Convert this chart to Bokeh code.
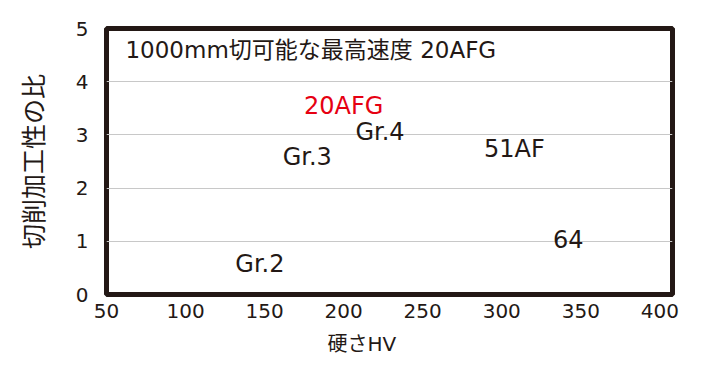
from bokeh.plotting import figure
from bokeh.models import Range1d, Label, Title, ColumnDataSource, FixedTicker
from bokeh.core.properties import value
from bokeh.embed import file_html
from bokeh.resources import INLINE

# Machinability ratio vs. hardness (HV) for each grade
grades = ["20AFG", "Gr.4", "Gr.3", "51AF", "Gr.2", "64"]
hardness_hv = [200, 223, 177, 308, 147, 342]
machinability_ratio = [3.54, 3.05, 2.58, 2.74, 0.58, 1.05]
highlight = "20AFG"

x_ticks = [50, 100, 150, 200, 250, 300, 350, 400]
y_ticks = [0, 1, 2, 3, 4, 5]

heading = "1000mm切可能な最高速度 20AFG"
x_title = "硬さHV"
y_title = "切削加工性の比"

INK = "#231815"
RED = "#e60012"
FONT = "'DejaVu Sans', 'Noto Sans CJK JP'"

p = figure(width=708, height=373, output_backend="svg", toolbar_location=None,
           x_range=Range1d(50, 408), y_range=Range1d(0, 5),
           min_border_left=106, min_border_right=36,
           min_border_top=28, min_border_bottom=79)

p.outline_line_color = INK
p.outline_line_width = 5
p.outline_line_alpha = 1.0
p.background_fill_color = "white"
p.border_fill_color = "white"

p.xgrid.visible = False
p.ygrid.grid_line_color = "#c8c8c8"
p.ygrid.grid_line_width = 1

for ax in (p.xaxis[0], p.yaxis[0]):
    ax.axis_line_color = None
    ax.major_tick_line_color = None
    ax.minor_tick_line_color = None
    ax.major_label_text_font = FONT
    ax.major_label_text_color = INK
    ax.major_label_text_font_size = "20px"

p.xaxis.ticker = FixedTicker(ticks=x_ticks)
p.yaxis.ticker = FixedTicker(ticks=y_ticks)
p.ygrid.ticker = FixedTicker(ticks=[1, 2, 3, 4])
p.xaxis.major_label_standoff = 3
p.yaxis.major_label_standoff = 12

p.yaxis.axis_label = y_title
p.yaxis.axis_label_text_font = FONT
p.yaxis.axis_label_text_font_size = "25px"
p.yaxis.axis_label_text_font_style = "normal"
p.yaxis.axis_label_text_color = INK
p.yaxis.axis_label_standoff = 24

p.add_layout(Title(text=x_title, align="left", offset=221, standoff=18,
                   text_font=FONT, text_font_size="20px",
                   text_font_style="normal", text_color=INK), "below")

colors = [RED if g == highlight else INK for g in grades]
src = ColumnDataSource(dict(x=hardness_hv, y=machinability_ratio,
                            name=grades, color=colors))
p.text(x="x", y="y", text="name", source=src, text_color="color",
       text_font=value(FONT), text_font_size="24px",
       text_align="center", text_baseline="middle")

p.add_layout(Label(x=62, y=4.6, text=heading, text_font=FONT,
                   text_font_size="23px", text_color=INK,
                   text_align="left", text_baseline="middle"))

open("out.html", "w").write(file_html(p, INLINE))
